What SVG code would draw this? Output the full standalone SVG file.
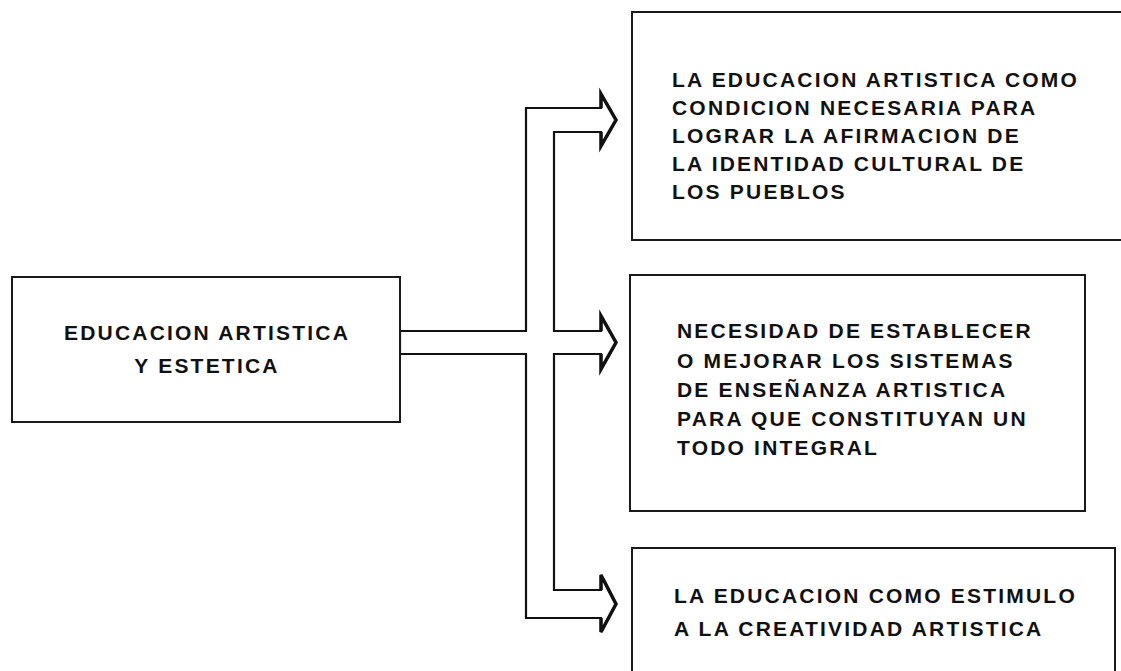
<svg xmlns="http://www.w3.org/2000/svg" width="1121" height="671" viewBox="0 0 1121 671">
<style>
.box{fill:#fff;stroke:#1a1a1a;stroke-width:2}
.t{font-family:"Liberation Sans",Arial,sans-serif;font-weight:bold;font-size:21px;letter-spacing:2.2px;fill:#111}
.c{text-anchor:middle}
.pipe{fill:#fff;stroke:#111;stroke-width:2.2;stroke-linejoin:miter}
.head{fill:none;stroke:#111;stroke-width:3.5;stroke-linejoin:miter}
</style>
<rect width="1121" height="671" fill="#fff"/>
<g id="connectors">
<path class="pipe" d="M400 331 H526 V108 H601 V94 L616 120 L601 146 V132 H554 V331 H601 V316 L616 342.5 L601 369 V354 H554 V590 H601 V575 L616 604 L601 632 V618 H526 V354 H400 Z"/>
<polyline class="head" points="601,108 601,94 616,120 601,146 601,132"/>
<polyline class="head" points="601,331 601,316 616,342.5 601,369 601,354"/>
<polyline class="head" points="601,590 601,575 616,604 601,632 601,618"/>
</g>
<g id="node-main">
<rect class="box" x="12" y="277" width="388" height="145"/>
<text class="t c" x="207" y="340">EDUCACION ARTISTICA</text>
<text class="t c" x="207" y="373">Y ESTETICA</text>
</g>
<g id="node-1">
<path class="box" d="M1125 12 H632 V240 H1125"/>
<text class="t" x="672" y="87">LA EDUCACION ARTISTICA COMO</text>
<text class="t" x="672" y="115">CONDICION NECESARIA PARA</text>
<text class="t" x="672" y="143">LOGRAR LA AFIRMACION DE</text>
<text class="t" x="672" y="171">LA IDENTIDAD CULTURAL DE</text>
<text class="t" x="672" y="199">LOS PUEBLOS</text>
</g>
<g id="node-2">
<rect class="box" x="630" y="275" width="455" height="236"/>
<text class="t" x="677" y="338">NECESIDAD DE ESTABLECER</text>
<text class="t" x="677" y="368">O MEJORAR LOS SISTEMAS</text>
<text class="t" x="677" y="397">DE ENSEÑANZA ARTISTICA</text>
<text class="t" x="677" y="426">PARA QUE CONSTITUYAN UN</text>
<text class="t" x="677" y="455">TODO  INTEGRAL</text>
</g>
<g id="node-3">
<path class="box" d="M632 675 V548 H1115 V675"/>
<text class="t" x="674" y="603">LA EDUCACION COMO ESTIMULO</text>
<text class="t" x="674" y="636">A LA CREATIVIDAD ARTISTICA</text>
</g>
</svg>
